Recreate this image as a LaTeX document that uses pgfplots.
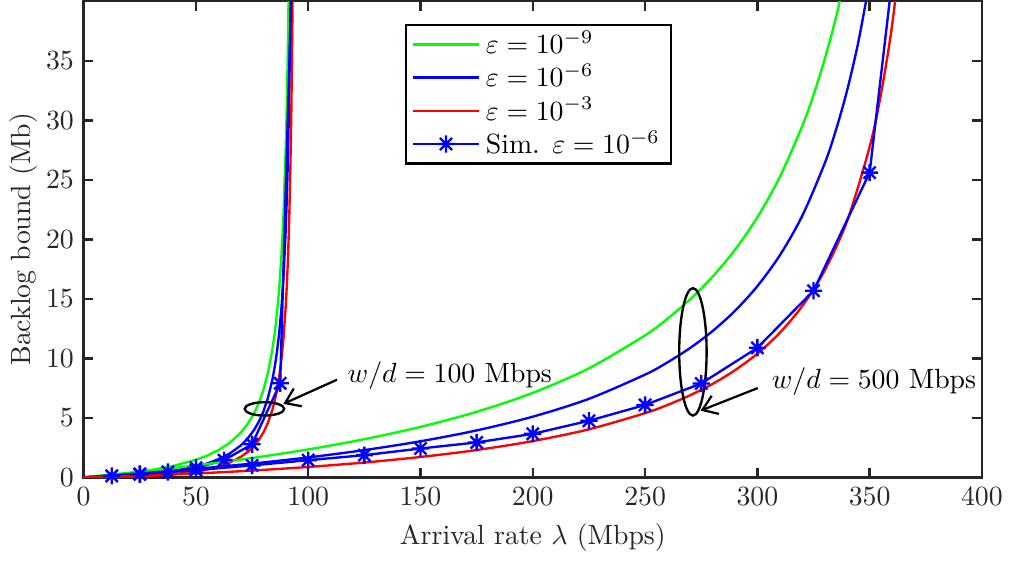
\documentclass[border=0pt]{standalone}
\usepackage{pgfplots}
\pgfplotsset{compat=1.18}
\usetikzlibrary{arrows.meta}
\pgfdeclareplotmark{mstar}{%
  \pgfpathmoveto{\pgfqpoint{0pt}{\pgfplotmarksize}}%
  \pgfpathlineto{\pgfqpoint{0pt}{-\pgfplotmarksize}}%
  \pgfpathmoveto{\pgfqpoint{\pgfplotmarksize}{0pt}}%
  \pgfpathlineto{\pgfqpoint{-\pgfplotmarksize}{0pt}}%
  \pgfpathmoveto{\pgfqpoint{0.7071\pgfplotmarksize}{0.7071\pgfplotmarksize}}%
  \pgfpathlineto{\pgfqpoint{-0.7071\pgfplotmarksize}{-0.7071\pgfplotmarksize}}%
  \pgfpathmoveto{\pgfqpoint{-0.7071\pgfplotmarksize}{0.7071\pgfplotmarksize}}%
  \pgfpathlineto{\pgfqpoint{0.7071\pgfplotmarksize}{-0.7071\pgfplotmarksize}}%
  \pgfusepathqstroke}
\definecolor{mgreen}{rgb}{0,1,0}
\definecolor{mblue}{rgb}{0,0,1}
\definecolor{mred}{rgb}{1,0,0}
\definecolor{axgray}{rgb}{0.15,0.15,0.15}
\begin{document}
\begin{tikzpicture}
\begin{axis}[
  scale only axis,
  width=323.4pt, height=171.4pt,
  xmin=0, xmax=400, ymin=0, ymax=40,
  xtick={0,50,...,400}, ytick={0,5,...,35},
  tick align=inside, major tick length=3.5pt,
  axis line style={line width=0.9pt, color=axgray},
  every tick/.style={line width=0.9pt, color=axgray},
  tick label style={color=axgray},
  label style={color=axgray},
  xlabel={Arrival rate $\lambda$ (Mbps)},
  ylabel={Backlog bound (Mb)},
  ylabel shift=-3.6pt,
  legend cell align=left,
  legend style={at={(axis cs:143,38.1)}, anchor=north west, draw=black, line width=0.9pt, fill=white, inner xsep=2pt, inner ysep=1pt, row sep=0pt, nodes={inner ysep=1.15pt}},
  legend image code/.code={\draw[mark repeat=2,mark phase=2] plot coordinates {(0cm,0cm) (0.42cm,0cm) (0.84cm,0cm)};},
  every axis plot/.append style={line width=0.85pt},
  mark size=3.1pt,
]
% w/d = 100 Mbps
\addplot[mgreen] coordinates {(0,0) (10,0.154) (20,0.350) (30,0.607) (40,0.959) (50,1.471) (55,1.824) (60,2.281) (65,2.894) (70,3.760) (73,4.476) (76,5.429) (78,6.259) (80,7.324) (82,8.738) (84,10.71) (85,12.01) (86,13.63) (87,15.71) (88,18.45) (89,22.25) (90,27.86) (90.5,31.80) (91,36.97) (91.5,44.06)};
\addlegendentry{$\varepsilon = 10^{-9}$}
\addplot[mblue] coordinates {(0,0) (10,0.042) (20,0.135) (30,0.286) (40,0.522) (50,0.893) (55,1.160) (60,1.513) (65,1.994) (70,2.681) (73,3.251) (76,4.011) (78,4.673) (80,5.518) (82,6.635) (84,8.178) (85,9.19) (86,10.44) (87,12.02) (88,14.08) (89,16.88) (90,20.90) (90.5,23.65) (91,27.15) (91.5,31.79) (92,38.21) (92.5,47.7)};
\addlegendentry{$\varepsilon = 10^{-6}$}
\addplot[mred] coordinates {(0,0) (10,0.0103) (20,0.0467) (30,0.121) (40,0.255) (50,0.487) (55,0.663) (60,0.902) (65,1.235) (70,1.720) (73,2.127) (76,2.671) (78,3.146) (80,3.754) (82,4.556) (84,5.658) (85,6.379) (86,7.263) (87,8.374) (88,9.809) (89,11.73) (90,14.45) (90.5,16.27) (91,18.56) (91.5,21.52) (92,25.51) (92.5,31.16) (93,39.79) (93.3,47.55)};
\addlegendentry{$\varepsilon = 10^{-3}$}
\addplot[mblue, mark=mstar] coordinates {(12.5,0.12) (25,0.25) (37.5,0.45) (50,0.8) (62.5,1.44) (75,2.78) (87.5,7.9) (100,90)};
\addlegendentry{Sim. $\varepsilon = 10^{-6}$}
% w/d = 500 Mbps
\addplot[mgreen, smooth, forget plot] coordinates {(0,0) (25,0.468) (50,1.003) (75,1.622) (100,2.346) (125,3.204) (150,4.237) (175,5.505) (200,7.097) (225,9.159) (250,11.93) (260,13.33) (270,14.95) (280,16.85) (290,19.11) (300,21.85) (310,25.24) (320,29.53) (325,32.13) (330,35.13) (335,38.64) (340,42.78)};
\addplot[mblue, smooth, forget plot] coordinates {(0,0) (25,0.332) (50,0.713) (75,1.154) (100,1.671) (125,2.286) (150,3.027) (175,3.941) (200,5.094) (225,6.595) (250,8.629) (260,9.661) (270,10.86) (280,12.28) (290,13.98) (300,16.06) (310,18.65) (320,21.97) (330,26.38) (335,29.18) (340,32.53) (345,36.61) (350,41.69)};
\addplot[mred, smooth, forget plot] coordinates {(0,0) (25,0.131) (50,0.323) (75,0.567) (100,0.869) (125,1.243) (150,1.708) (175,2.292) (200,3.043) (225,4.033) (250,5.391) (260,6.079) (270,6.887) (280,7.841) (290,8.991) (300,10.39) (310,12.14) (320,14.39) (330,17.38) (340,21.55) (350,27.76) (355,32.16) (360,37.98) (365,46.0)};
\addplot[mblue, mark=mstar, forget plot] coordinates {(25,0.28) (50,0.6) (75,1.0) (100,1.44) (125,1.86) (150,2.42) (175,2.93) (200,3.65) (225,4.75) (250,6.08) (275,7.88) (300,10.88) (325,15.67) (350,25.6) (375,66)};
% annotations
\draw[black, line width=0.85pt] (axis cs:80.5,5.75) ellipse [x radius=8.8, y radius=0.56];
\draw[black, line width=0.85pt] (axis cs:271.3,10.54) ellipse [x radius=6.1, y radius=5.35];
\draw[black, line width=0.8pt, -{Straight Barb[length=5pt,width=7pt]}] (axis cs:112.8,8.2) -- (axis cs:88.9,6.17);
\draw[black, line width=0.8pt, -{Straight Barb[length=5pt,width=7pt]}] (axis cs:300.2,7.5) -- (axis cs:274.7,5.6);
\node[anchor=base west, text=black] at (axis cs:113.2,8.0) {$w/d = 100$ Mbps};
\node[anchor=base west, text=black] at (axis cs:302.1,7.45) {$w/d = 500$ Mbps};
\end{axis}
\end{tikzpicture}
\end{document}
